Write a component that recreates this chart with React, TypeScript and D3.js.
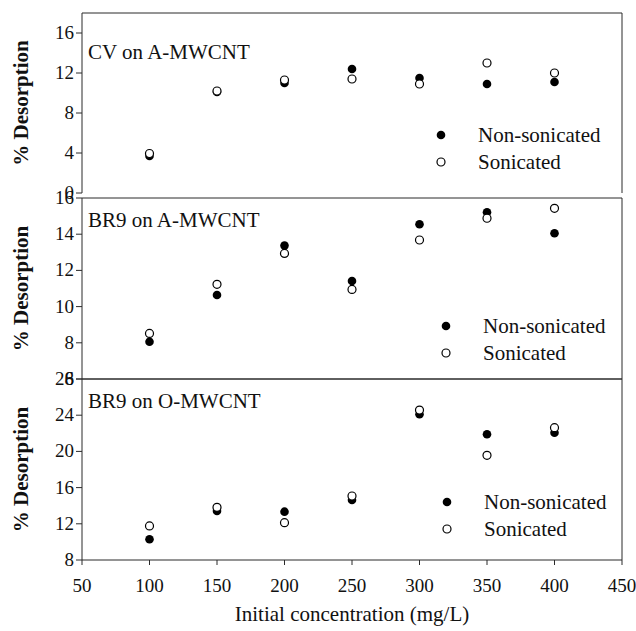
import React from "react";
import * as d3 from "d3";

// concentrations (mg/L)
const conc = [100, 150, 200, 250, 300, 350, 400];
const xTicks = [50, 100, 150, 200, 250, 300, 350, 400, 450];

// % desorption
const cvANon = [3.7, 10.1, 11.0, 12.4, 11.5, 10.9, 11.1];
const cvASon = [3.95, 10.2, 11.3, 11.4, 10.9, 13.0, 12.0];
const br9ANon = [8.06, 10.64, 13.37, 11.41, 14.55, 15.21, 14.05];
const br9ASon = [8.52, 11.23, 12.94, 10.95, 13.68, 14.88, 15.43];
const br9ONon = [10.3, 13.41, 13.34, 14.63, 24.1, 21.89, 22.07];
const br9OSon = [11.76, 13.82, 12.12, 15.07, 24.57, 19.57, 22.62];

const panelTitles = ["CV on A-MWCNT", "BR9 on A-MWCNT", "BR9 on O-MWCNT"];

const W = 636;
const H = 631;
const left = 82;
const right = 622;
const font = `"Liberation Serif", "Tinos", "Times New Roman", serif`;
const ink = "#2a2a2a";

const panels = [
  { title: panelTitles[0], top: 13, bottom: 193, domain: [0, 18], ticks: [0, 4, 8, 12, 16], non: cvANon, son: cvASon, legX: 441, legY: 135, box: false },
  { title: panelTitles[1], top: 198, bottom: 379, domain: [6, 16], ticks: [6, 8, 10, 12, 14, 16], non: br9ANon, son: br9ASon, legX: 446, legY: 326, box: true },
  { title: panelTitles[2], top: 379, bottom: 560, domain: [8, 28], ticks: [8, 12, 16, 20, 24, 28], non: br9ONon, son: br9OSon, legX: 447, legY: 502, box: true },
];

export default function App() {
  const x = d3.scaleLinear().domain([50, 450]).range([left, right]);

  return (
    <svg width={W} height={H} style={{ display: "block", position: "absolute", left: 0, top: 0, background: "#fff", fontFamily: font }}>
      {panels.map((p, pi) => {
        const y = d3.scaleLinear().domain(p.domain).range([p.bottom, p.top]);
        const mid = (p.top + p.bottom) / 2;
        return (
          <g key={pi}>
            {/* frame */}
            <line x1={left} x2={right} y1={p.top} y2={p.top} stroke={ink} />
            <line x1={right} x2={right} y1={p.top} y2={p.bottom} stroke={ink} />
            <line x1={left} x2={left} y1={p.top} y2={p.bottom} stroke={ink} />
            {p.box && <line x1={left} x2={right} y1={p.bottom} y2={p.bottom} stroke={ink} />}
            {/* y ticks */}
            {p.ticks.map((t) => (
              <g key={t}>
                <line x1={left - 6} x2={left} y1={y(t)} y2={y(t)} stroke={ink} />
                <text x={74} y={y(t) + 6} textAnchor="end" fontSize={19} fill="#111">
                  {t}
                </text>
              </g>
            ))}
            <text
              transform={`translate(28,${mid}) rotate(-90)`}
              textAnchor="middle"
              fontSize={21}
              fontWeight="bold"
              fill="#111"
            >
              % Desorption
            </text>
            <text x={88} y={p.top + (pi === 0 ? 46 : 29)} fontSize={21} fill="#111">
              {p.title}
            </text>
            {/* data */}
            {conc.map((c, i) => (
              <circle key={"n" + i} cx={x(c)} cy={y(p.non[i])} r={4.3} fill="#000" />
            ))}
            {conc.map((c, i) => (
              <circle key={"s" + i} cx={x(c)} cy={y(p.son[i])} r={4} fill="#fff" stroke="#000" strokeWidth={1.2} />
            ))}
            {/* legend */}
            <circle cx={p.legX} cy={p.legY} r={4.3} fill="#000" />
            <text x={p.legX + 37} y={p.legY + 7} fontSize={21} fill="#111">
              Non-sonicated
            </text>
            <circle cx={p.legX} cy={p.legY + 27} r={4} fill="#fff" stroke="#000" strokeWidth={1.2} />
            <text x={p.legX + 37} y={p.legY + 34} fontSize={21} fill="#111">
              Sonicated
            </text>
          </g>
        );
      })}
      {/* x axis */}
      {xTicks.map((t) => (
        <g key={t}>
          <line x1={x(t)} x2={x(t)} y1={560} y2={565} stroke={ink} />
          <text x={x(t)} y={592} textAnchor="middle" fontSize={19} fill="#111">
            {t}
          </text>
        </g>
      ))}
      <text x={(left + right) / 2} y={621} textAnchor="middle" fontSize={21} fill="#111">
        Initial concentration (mg/L)
      </text>
    </svg>
  );
}
